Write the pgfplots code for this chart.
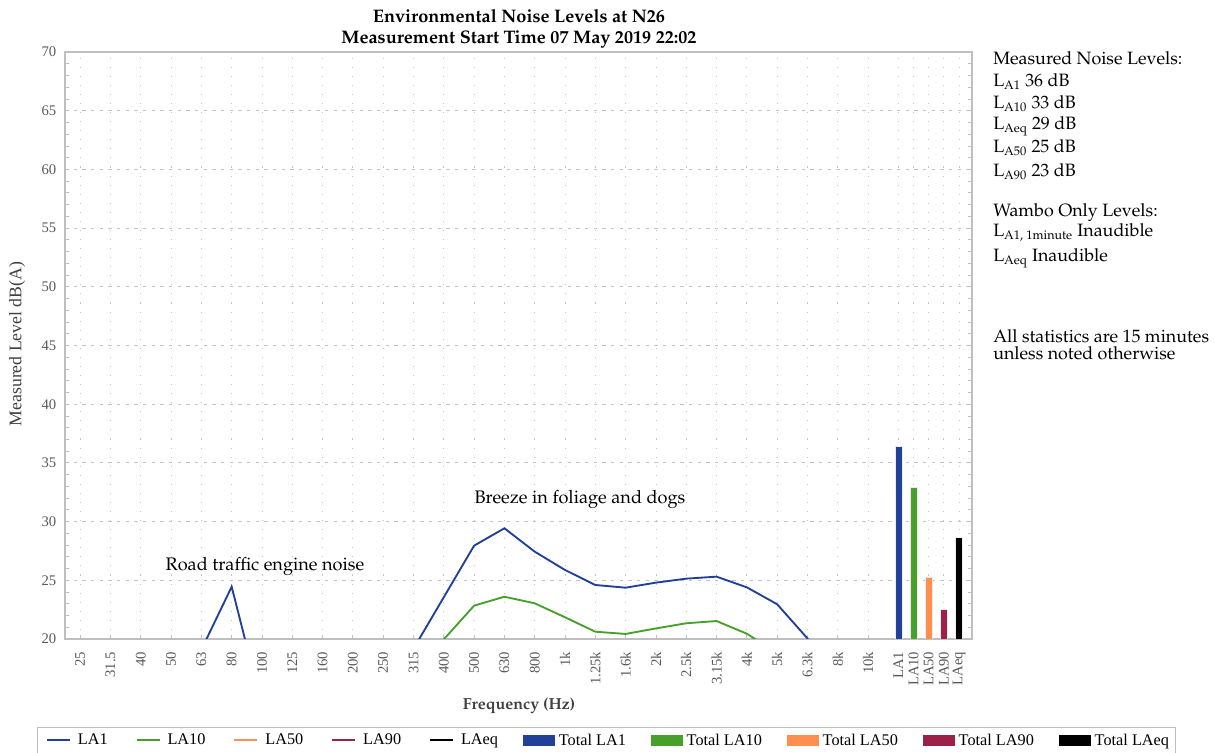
\documentclass[border=0pt]{standalone}
\usepackage[T1]{fontenc}
\usepackage{fontspec}
\setmainfont{Liberation Serif}
\IfFileExists{t1qpl.fd}{\newcommand{\pal}{\fontencoding{T1}\fontfamily{qpl}\selectfont}}{%
  \IfFileExists{t1ppl.fd}{\newcommand{\pal}{\fontencoding{T1}\fontfamily{ppl}\selectfont}}{%
    \newcommand{\pal}{\rmfamily}}}
\usepackage{pgfplots}
\pgfplotsset{compat=1.18}
\definecolor{cLAone}{HTML}{21409A}
\definecolor{cLAten}{HTML}{46A02A}
\definecolor{cLAfifty}{HTML}{FF8F4F}
\definecolor{cLAninety}{HTML}{9E1F47}
\definecolor{tickgray}{HTML}{595959}
\definecolor{labelgray}{HTML}{404040}
\definecolor{axgray}{HTML}{BFBFBF}
\definecolor{gridgray}{HTML}{C4C4C4}
\pgfplotsset{
  linelegend/.style={legend image code/.code={\path (0pt,0pt) (21.75pt,0pt); \draw[##1] (2.25pt,0pt) -- (19.5pt,0pt);}},
  rectlegend/.style={legend image code/.code={\fill[##1] (0pt,-4pt) rectangle (23.25pt,4pt);}},
}
\begin{document}
\begin{tikzpicture}[x=0.75pt,y=0.75pt]
\useasboundingbox (0,0) rectangle (1215,753);
\begin{axis}[
  at={(48.75pt,85.5pt)}, anchor=south west,
  scale only axis, width=680.25pt, height=440.25pt,
  xmin=-0.5, xmax=29.43, ymin=20, ymax=70,
  axis line style={draw=axgray, line width=1.3pt},
  xtick={0,1,2,3,4,5,6,7,8,9,10,11,12,13,14,15,16,17,18,19,20,21,22,23,24,25,26,27,27.5,28,28.5,29},
  xticklabels={25,31.5,40,50,63,80,100,125,160,200,250,315,400,500,630,800,1k,1.25k,1.6k,2k,2.5k,3.15k,4k,5k,6.3k,8k,10k,LA1,LA10,LA50,LA90,LAeq},
  xtick pos=bottom,
  ytick={20,25,...,70}, minor y tick num=4, ytick pos=both,
  tick align=inside, major tick length=3pt, minor tick length=3pt,
  tick style={draw=axgray, line width=0.6pt},
  xmajorgrids, ymajorgrids,
  major x grid style={draw=gridgray, line width=0.6pt, dash pattern=on 0.8pt off 6pt},
  major y grid style={draw=gridgray, line width=0.6pt, dash pattern=on 2.5pt off 4pt},
  tick label style={font=\fontsize{11}{12}\selectfont, text=tickgray},
  x tick label style={rotate=90, anchor=east},
  xticklabel shift=6pt, yticklabel shift=3pt,
  /pgf/number format/assume math mode=true,
  legend columns=10, legend cell align=left,
  legend style={at={(0.5965,-0.1494)}, anchor=north, draw=axgray, line width=0.6pt,
    inner xsep=4.5pt, inner ysep=3pt, column sep=3pt,
    font=\fontsize{12.2}{14}\selectfont,
    nodes={inner xsep=0pt, inner ysep=2pt}},
]
\addplot[cLAone, line width=1.4pt, forget plot] coordinates {
(0,15.5) (1,15) (2,14.5) (3,15.5) (4,19.09) (5,24.45) (6,14.3) (7,14) (8,13.5) (9,14) (10,15) (11,19.17) (12,23.56) (13,27.95) (14,29.43) (15,27.44) (16,25.88) (17,24.6) (18,24.37) (19,24.8) (20,25.14) (21,25.31) (22,24.4) (23,22.96) (24,20.05) (25,16) (26,15)};
\addplot[cLAten, line width=1.4pt, forget plot] coordinates {
(0,13) (1,12.5) (2,12) (3,12.5) (4,14) (5,16) (6,12) (7,11.5) (8,11) (9,11.5) (10,12) (11,15) (12,19.97) (13,22.84) (14,23.6) (15,23.04) (16,21.85) (17,20.62) (18,20.43) (19,20.9) (20,21.34) (21,21.53) (22,20.45) (23,18.8) (24,17) (25,14) (26,13)};
\addplot[ybar, bar width=0.23, bar shift=0pt, fill=cLAone, draw=white!85!gray, line width=0.4pt, forget plot] coordinates {(27,36.4)};
\addplot[ybar, bar width=0.23, bar shift=0pt, fill=cLAten, draw=white!85!gray, line width=0.4pt, forget plot] coordinates {(27.5,32.9)};
\addplot[ybar, bar width=0.23, bar shift=0pt, fill=cLAfifty, draw=white!85!gray, line width=0.4pt, forget plot] coordinates {(28,25.3)};
\addplot[ybar, bar width=0.23, bar shift=0pt, fill=cLAninety, draw=white!85!gray, line width=0.4pt, forget plot] coordinates {(28.5,22.55)};
\addplot[ybar, bar width=0.23, bar shift=0pt, fill=black, draw=white!85!gray, line width=0.4pt, forget plot] coordinates {(29,28.7)};
% legend
\addlegendimage{cLAone, line width=1.4pt, linelegend}
\addlegendentry{LA1\kern15.75pt}
\addlegendimage{cLAten, line width=1.4pt, linelegend}
\addlegendentry{LA10\kern15.75pt}
\addlegendimage{cLAfifty, line width=1.4pt, linelegend}
\addlegendentry{LA50\kern15.75pt}
\addlegendimage{cLAninety, line width=1.4pt, linelegend}
\addlegendentry{LA90\kern15.75pt}
\addlegendimage{black, line width=1.4pt, linelegend}
\addlegendentry{LAeq\kern15.75pt}
\addlegendimage{cLAone, rectlegend}
\addlegendentry{Total LA1\kern15.75pt}
\addlegendimage{cLAten, rectlegend}
\addlegendentry{Total LA10\kern15.75pt}
\addlegendimage{cLAfifty, rectlegend}
\addlegendentry{Total LA50\kern15.75pt}
\addlegendimage{cLAninety, rectlegend}
\addlegendentry{Total LA90\kern15.75pt}
\addlegendimage{black, rectlegend}
\addlegendentry{Total LAeq}
\end{axis}
% titles and labels
\node[anchor=base, font=\pal\bfseries\fontsize{13.6}{16}\selectfont] at (519,730) {Environmental Noise Levels at N26};
\node[anchor=base, font=\pal\bfseries\fontsize{13.6}{16}\selectfont] at (519,709.5) {Measurement Start Time 07 May 2019 22:02};
\node[rotate=90, font=\fontsize{13.3}{15}\selectfont, text=labelgray] at (17,409) {Measured Level dB(A)};
\node[anchor=base, font=\pal\bfseries\fontsize{12}{14}\selectfont, text=labelgray] at (519,43) {Frequency (Hz)};
% annotations
\node[font=\pal\fontsize{13.6}{16}\selectfont] at (265,186) {Road traffic engine noise};
\node[font=\pal\fontsize{13.6}{16}\selectfont] at (580,253) {Breeze in foliage and dogs};
% right text
\begin{scope}[every node/.style={anchor=base west, inner sep=0pt, font=\pal\fontsize{13.4}{16}\selectfont}]
\node at (993,688) {Measured Noise Levels:};
\node at (993,666.3) {L\textsubscript{A1} 36 dB};
\node at (993,644.7) {L\textsubscript{A10} 33 dB};
\node at (993,623) {L\textsubscript{Aeq} 29 dB};
\node at (993,600) {L\textsubscript{A50} 25 dB};
\node at (993,576.3) {L\textsubscript{A90} 23 dB};
\node at (993,536.3) {Wambo Only Levels:};
\node at (993,516.3) {L\textsubscript{A1, 1minute} Inaudible};
\node at (993,491.3) {L\textsubscript{Aeq} Inaudible};
\node at (993,410.7) {All statistics are 15 minutes};
\node at (993,393) {unless noted otherwise};
\end{scope}
\end{tikzpicture}
\end{document}
